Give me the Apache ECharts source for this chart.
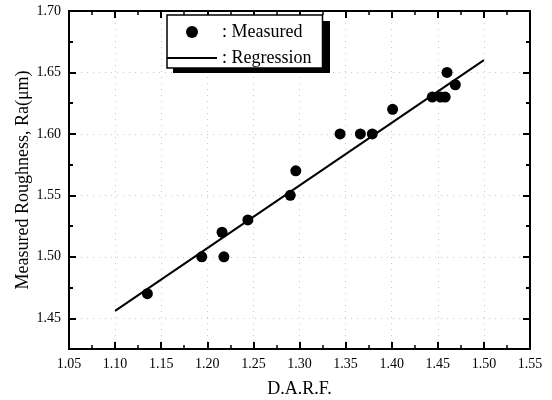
<!DOCTYPE html>
<html>
<head>
<meta charset="utf-8">
<script src="https://cdn.jsdelivr.net/npm/echarts@6/dist/echarts.min.js"></script>
<style>
html,body{margin:0;padding:0;background:#fff;}
#chart{width:552px;height:400px;}
</style>
</head>
<body>
<div id="chart"></div>
<script>
// Measured data
const darf = [1.135, 1.194, 1.216, 1.218, 1.244, 1.290, 1.296, 1.344, 1.366, 1.379, 1.401, 1.444, 1.453, 1.458, 1.460, 1.469];
const roughness = [1.47, 1.50, 1.52, 1.50, 1.53, 1.55, 1.57, 1.60, 1.60, 1.60, 1.62, 1.63, 1.63, 1.63, 1.65, 1.64];
// Regression line end points
const regX = [1.10, 1.50];
const regY = [1.456, 1.66];
// Tick values
const yMajor = [1.45, 1.50, 1.55, 1.60, 1.65, 1.70];
const yMinor = [1.425, 1.475, 1.525, 1.575, 1.625, 1.675];

const FONT = 'Liberation Serif';

const chart = echarts.init(document.getElementById('chart'), null, {renderer: 'canvas'});

const gridLine = {show: true, lineStyle: {color: '#c8c8c8', type: [1, 5], width: 1}};

const xCommon = {
  type: 'value', min: 1.05, max: 1.55, interval: 0.05,
  axisLine: {show: true, onZero: false, lineStyle: {color: '#000', width: 2}},
  axisTick: {show: true, inside: true, length: 7, lineStyle: {color: '#000', width: 2}},
  minorTick: {show: true, splitNumber: 2, length: 4, lineStyle: {color: '#000', width: 1.5}},
  splitLine: {show: false}
};

const yCommon = (pos, ticks, len, withLabels, withSplit) => ({
  type: 'value', min: 1.425, max: 1.70, position: pos,
  axisLine: {show: true, onZero: false, lineStyle: {color: '#000', width: 2}},
  axisTick: {show: true, inside: true, length: len, customValues: ticks, lineStyle: {color: '#000', width: 2}},
  axisLabel: withLabels ? {
    show: true, customValues: ticks, margin: 8,
    fontFamily: FONT, fontSize: 14, color: '#000',
    formatter: v => v.toFixed(2)
  } : {show: false},
  splitLine: withSplit ? gridLine : {show: false}
});

// Legend box geometry (layout only)
const LG = {left: 167, top: 15, w: 157, h: 52, sh: 6};

const option = {
  backgroundColor: '#fff',
  animation: false,
  grid: {left: 69, right: 22, top: 11, bottom: 51, containLabel: false, outerBoundsMode: 'none'},
  graphic: [{
    type: 'rect', z: 90, silent: true,
    shape: {x: LG.left + LG.sh, y: LG.top + LG.sh, width: LG.w, height: LG.h},
    style: {fill: '#000'}
  }],
  legend: {
    show: true,
    z: 100,
    orient: 'vertical',
    left: LG.left, top: LG.top,
    width: LG.w,
    padding: [8, 11, 1, 0],
    itemGap: 8,
    itemWidth: 50, itemHeight: 12,
    backgroundColor: '#fff',
    borderColor: '#000', borderWidth: 1.5,
    textStyle: {fontFamily: FONT, fontSize: 18, color: '#000'},
    data: [
      {name: ': Measured', icon: 'circle'},
      {name: ': Regression', icon: 'path://M0,0h40v1.6h-40z'}
    ]
  },
  xAxis: [
    Object.assign({}, xCommon, {
      position: 'bottom',
      name: 'D.A.R.F.', nameLocation: 'middle', nameGap: 31, nameMoveOverlap: false,
      nameTextStyle: {fontFamily: FONT, fontSize: 18, color: '#000'},
      axisLabel: {show: true, margin: 8, fontFamily: FONT, fontSize: 14, color: '#000', formatter: v => v.toFixed(2)},
      splitLine: gridLine
    }),
    Object.assign({}, xCommon, {position: 'top', axisLabel: {show: false}})
  ],
  yAxis: [
    Object.assign(yCommon('left', yMajor, 7, true, true), {
      name: 'Measured Roughness, Ra(μm)', nameLocation: 'middle', nameGap: 37, nameMoveOverlap: false,
      nameTextStyle: {fontFamily: FONT, fontSize: 18, color: '#000'}
    }),
    yCommon('left', yMinor, 4, false, false),
    yCommon('right', yMajor, 7, false, false),
    yCommon('right', yMinor, 4, false, false)
  ],
  series: [
    {
      name: ': Measured',
      type: 'scatter',
      xAxisIndex: 0, yAxisIndex: 0,
      symbol: 'circle', symbolSize: 11,
      itemStyle: {color: '#000', opacity: 1},
      data: darf.map((x, i) => [x, roughness[i]]),
      z: 3
    },
    {
      name: ': Regression',
      type: 'line',
      xAxisIndex: 0, yAxisIndex: 0,
      symbol: 'none',
      lineStyle: {color: '#000', width: 2},
      itemStyle: {color: '#000'},
      data: regX.map((x, i) => [x, regY[i]]),
      z: 2
    }
  ]
};
chart.setOption(option);
</script>
</body>
</html>
